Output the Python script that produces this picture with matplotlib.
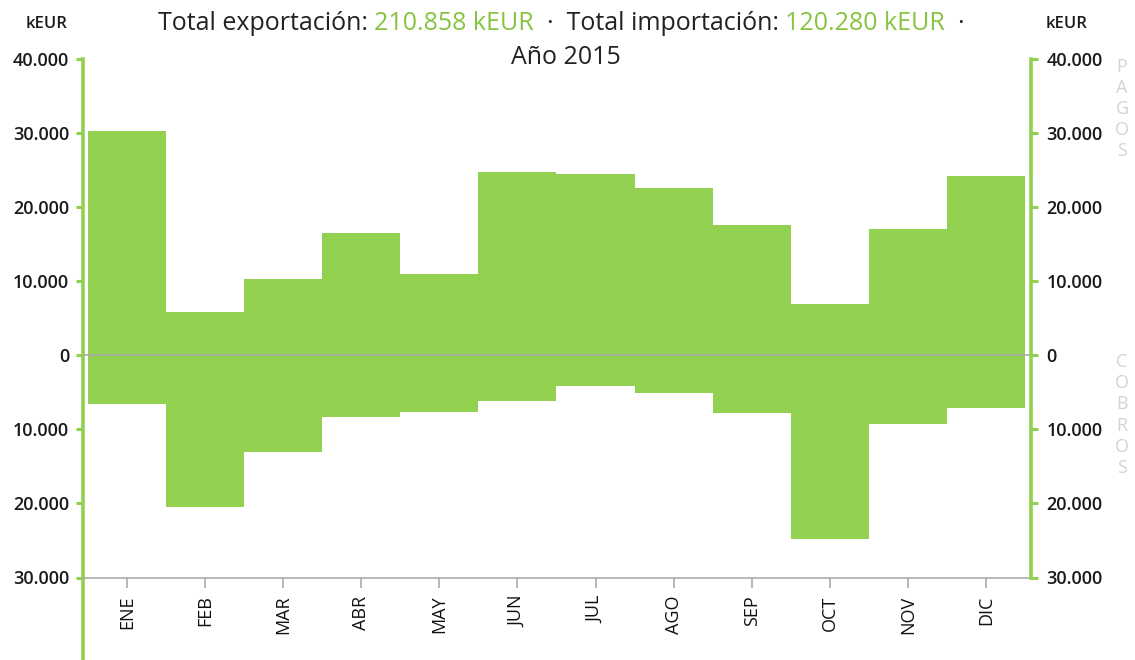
# Pagos / cobros mensuales 2015 (kEUR)

import numpy as np
import matplotlib
matplotlib.use('Agg')
import matplotlib.pyplot as plt

plt.rcParams['font.family'] = ['Open Sans', 'DejaVu Sans']

# Datos
meses = ['ENE', 'FEB', 'MAR', 'ABR', 'MAY', 'JUN', 'JUL', 'AGO', 'SEP', 'OCT', 'NOV', 'DIC']
pagos = [30250, 5850, 10250, 16500, 11000, 24750, 24400, 22600, 17550, 6900, 17000, 24100]
cobros = [6650, 20450, 13050, 8300, 7650, 6250, 4150, 5050, 7800, 24750, 9250, 7100]
total_export = '210.858 kEUR'
total_import = '120.280 kEUR'
anio = 'Año 2015'
yticks = [-30000, -20000, -10000, 0, 10000, 20000, 30000, 40000]

VERDE = '#92d050'
VERDE_TXT = '#86c440'
GRIS = '#ababab'

W, H = 1135, 660
fig = plt.figure(figsize=(W / 100, H / 100), dpi=100)
ax = fig.add_axes([83 / W, 1 - 577.5 / H, (1031 - 83) / W, (577.5 - 58.5) / H])

x = np.arange(len(meses))
ax.bar(x, pagos, width=1.0, color=VERDE, linewidth=0, zorder=2)
ax.bar(x, [-v for v in cobros], width=1.0, color=VERDE, linewidth=0, zorder=2)
ax.axhline(0, color=GRIS, lw=1.2, zorder=3)

ax.set_xlim(-0.564, 11.577)
ax.set_ylim(-30000, 40000)

def fmt(v):
    return f'{abs(v):,}'.replace(',', '.')

ax.set_yticks(yticks, [fmt(v) for v in yticks])
ax.set_xticks(x, meses, rotation=90)
ax.tick_params(axis='x', colors=GRIS, length=7, width=1.2, labelcolor='#111111',
               labelsize=13, pad=6)
ax.tick_params(axis='y', colors=VERDE, length=5, width=2.2, labelcolor='#1a1a1a',
               labelsize=13, pad=5)
for lab in ax.get_yticklabels():
    lab.set_fontweight('semibold')

ax.spines['top'].set_visible(False)
ax.spines['right'].set_visible(False)
ax.spines['bottom'].set_color(GRIS)
ax.spines['bottom'].set_linewidth(1.2)
ax.spines['left'].set_color(VERDE)
ax.spines['left'].set_linewidth(2.6)
# el eje izquierdo baja hasta el borde de la imagen
ax.plot([0, 0], [0, -0.17], transform=ax.transAxes, color=VERDE, lw=2.6,
        clip_on=False, solid_capstyle='butt')

ax2 = ax.twinx()
ax2.set_ylim(-30000, 40000)
ax2.set_yticks(yticks, [fmt(v) for v in yticks])
ax2.tick_params(axis='y', colors=VERDE, length=5, width=2.2, labelcolor='#1a1a1a',
                labelsize=13, pad=6)
for lab in ax2.get_yticklabels():
    lab.set_fontweight('semibold')
for s in ['left', 'top', 'bottom']:
    ax2.spines[s].set_visible(False)
ax2.spines['right'].set_color(VERDE)
ax2.spines['right'].set_linewidth(2.6)

# unidades
fig.text(47 / W, 1 - 24 / H, 'kEUR', ha='center', va='center', fontsize=12,
         fontweight='semibold', color='#1a1a1a')
fig.text(1067 / W, 1 - 24 / H, 'kEUR', ha='center', va='center', fontsize=12,
         fontweight='semibold', color='#1a1a1a')

# PAGOS / COBROS en vertical
for i, ch in enumerate('PAGOS'):
    fig.text(1122 / W, 1 - (67 + 21 * i) / H, ch, ha='center', va='center',
             fontsize=13, color='#d6d2d2')
for i, ch in enumerate('COBROS'):
    fig.text(1122 / W, 1 - (362 + 21.2 * i) / H, ch, ha='center', va='center',
             fontsize=13, color='#d6d2d2')

# titulo con trozos de color
trozos = [('Total exportación: ', '#222222'), (total_export, VERDE_TXT),
          ('  ·  Total importación: ', '#222222'), (total_import, VERDE_TXT),
          ('  ·', '#222222')]
ts = 18
textos = [fig.text(0, 1 - 24 / H, t, color=c, fontsize=ts, va='center', ha='left')
          for t, c in trozos]
r = fig.canvas.get_renderer()
anchos = [t.get_window_extent(r).width for t in textos]
x0 = 561 - sum(anchos) / 2
for t, w in zip(textos, anchos):
    t.set_x(x0 / W)
    x0 += w
fig.text(566 / W, 1 - 57 / H, anio, color='#222222', fontsize=ts, ha='center', va='center')

fig.savefig('out.png', dpi=100)
